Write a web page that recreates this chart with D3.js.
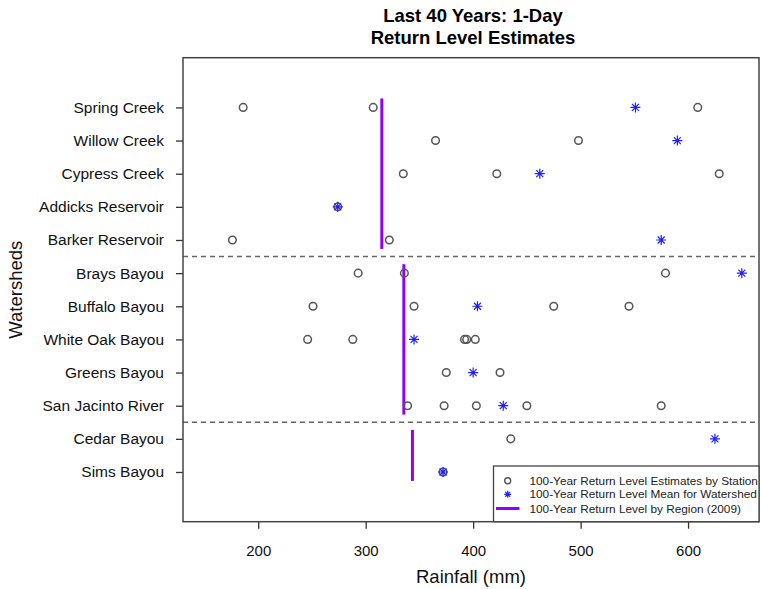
<!DOCTYPE html>
<html>
<head>
<meta charset="utf-8">
<script src="https://cdn.jsdelivr.net/npm/d3@7"></script>
<style>
    body { margin: 0; background: #fff; }
    svg text { font-family: "Liberation Sans", Arial, Helvetica, sans-serif; }
</style>
</head>
<body>
<div id="chart"></div>
<script>
// Данные графика
const watersheds = ['Spring Creek', 'Willow Creek', 'Cypress Creek', 'Addicks Reservoir', 'Barker Reservoir',
    'Brays Bayou', 'Buffalo Bayou', 'White Oak Bayou', 'Greens Bayou', 'San Jacinto River',
    'Cedar Bayou', 'Sims Bayou'];

// Оценки по станциям (мм)
const stationEstimates = [
    [186, 307, 609],
    [365, 498],
    [335, 422, 629],
    [274],
    [176, 322],
    [293, 336, 579],
    [251, 345, 475, 545],
    [246, 288, 392, 394, 402],
    [375, 425],
    [339, 373, 403, 450, 575],
    [435],
    [372]
];

// Среднее по водоразделу
const watershedMeans = [551, 590, 462, 274, 575, 650, 404, 345, 400, 428, 625, 372];

// Региональные уровни (2009) и группы водоразделов
const regionValues = [315, 335.5, 343.5];
const regionFirst = [0, 5, 10];
const regionLast = [4, 9, 11];

const xTicks = [200, 300, 400, 500, 600];
const legendLabels = ['100-Year Return Level Estimates by Station',
    '100-Year Return Level Mean for Watershed',
    '100-Year Return Level by Region (2009)'];

const width = 761, height = 589;
const plotLeft = 183, plotRight = 759, plotTop = 57.7, plotBottom = 521.7;

const svg = d3.select('#chart').append('svg')
    .attr('width', width)
    .attr('height', height);

// Шкалы
const x = d3.scaleLinear().domain([130, 666]).range([plotLeft, plotRight]);
const y = d3.scaleLinear().domain([-1.5, 12.5]).range([plotTop, plotBottom]);

const starPath = s => `M${-s},0H${s}M0,${-s}V${s}M${-s * 0.7},${-s * 0.7}L${s * 0.7},${s * 0.7}M${-s * 0.7},${s * 0.7}L${s * 0.7},${-s * 0.7}`;

// Заголовок
svg.append('text')
    .attr('x', 473).attr('y', 22)
    .attr('text-anchor', 'middle')
    .attr('font-size', '18.5px').attr('font-weight', 'bold')
    .text('Last 40 Years: 1-Day');
svg.append('text')
    .attr('x', 473).attr('y', 44)
    .attr('text-anchor', 'middle')
    .attr('font-size', '18.5px').attr('font-weight', 'bold')
    .text('Return Level Estimates');

// Ось X
const xAxis = svg.append('g')
    .attr('transform', `translate(0,${plotBottom})`)
    .call(d3.axisBottom(x).tickValues(xTicks).tickSize(7).tickPadding(17));
xAxis.select('.domain').remove();
xAxis.selectAll('line').attr('stroke', '#333').attr('stroke-width', 1.3);
xAxis.selectAll('text').attr('font-size', '15px').attr('fill', '#111')
    .attr('font-family', '"Liberation Sans", Arial, sans-serif');

// Ось Y
const yAxis = svg.append('g')
    .attr('transform', `translate(${plotLeft},0)`)
    .call(d3.axisLeft(y).tickValues(d3.range(watersheds.length))
        .tickFormat(i => watersheds[i]).tickSize(7).tickPadding(12));
yAxis.select('.domain').remove();
yAxis.selectAll('line').attr('stroke', '#333').attr('stroke-width', 1.3);
yAxis.selectAll('text').attr('font-size', '15.5px').attr('fill', '#111')
    .attr('font-family', '"Liberation Sans", Arial, sans-serif');

// Подписи осей
svg.append('text')
    .attr('x', (plotLeft + plotRight) / 2).attr('y', 583)
    .attr('text-anchor', 'middle')
    .attr('font-size', '18.5px').attr('fill', '#111')
    .text('Rainfall (mm)');
svg.append('text')
    .attr('transform', `translate(22,${(plotTop + plotBottom) / 2}) rotate(-90)`)
    .attr('text-anchor', 'middle')
    .attr('font-size', '18.5px').attr('fill', '#111')
    .text('Watersheds');

// Пунктирные разделители групп
svg.append('g').selectAll('line')
    .data(regionLast.slice(0, -1))
    .enter().append('line')
    .attr('x1', plotLeft).attr('x2', plotRight)
    .attr('y1', d => y(d + 0.5)).attr('y2', d => y(d + 0.5))
    .attr('stroke', '#666').attr('stroke-width', 1.5)
    .attr('stroke-dasharray', '5,4');

// Региональные линии
svg.append('g').selectAll('line')
    .data(regionValues)
    .enter().append('line')
    .attr('x1', d => x(d)).attr('x2', d => x(d))
    .attr('y1', (d, i) => y(regionFirst[i] - 0.27))
    .attr('y2', (d, i) => y(regionLast[i] + 0.27))
    .attr('stroke', '#8f00ff').attr('stroke-width', 3);

// Точки станций
const stations = [];
stationEstimates.forEach((vals, i) => vals.forEach(v => stations.push({ row: i, value: v })));
svg.append('g').selectAll('circle')
    .data(stations)
    .enter().append('circle')
    .attr('cx', d => x(d.value))
    .attr('cy', d => y(d.row))
    .attr('r', 3.8)
    .attr('fill', 'none')
    .attr('stroke', '#555')
    .attr('stroke-width', 1.5);

// Средние значения (звёздочки)
svg.append('g').selectAll('path')
    .data(watershedMeans)
    .enter().append('path')
    .attr('transform', (d, i) => `translate(${x(d)},${y(i)})`)
    .attr('d', starPath(5))
    .attr('stroke', '#1f1fff')
    .attr('stroke-width', 1.2)
    .attr('fill', 'none');

// Рамка графика
svg.append('rect')
    .attr('x', plotLeft).attr('y', plotTop)
    .attr('width', plotRight - plotLeft).attr('height', plotBottom - plotTop)
    .attr('fill', 'none')
    .attr('stroke', '#444')
    .attr('stroke-width', 1.5);

// Легенда
const legend = svg.append('g');
legend.append('rect')
    .attr('x', 493.5).attr('y', 466)
    .attr('width', plotRight - 493.5).attr('height', plotBottom - 466)
    .attr('fill', '#fff')
    .attr('stroke', '#444')
    .attr('stroke-width', 1.3);

const legendY = [480.7, 494.3, 508.5];
legend.append('circle')
    .attr('cx', 507.7).attr('cy', legendY[0]).attr('r', 3)
    .attr('fill', 'none').attr('stroke', '#555').attr('stroke-width', 1.4);
legend.append('path')
    .attr('transform', `translate(507.7,${legendY[1]})`)
    .attr('d', starPath(3.5))
    .attr('stroke', '#1f1fff').attr('stroke-width', 1.2);
legend.append('line')
    .attr('x1', 496).attr('x2', 519.5)
    .attr('y1', legendY[2]).attr('y2', legendY[2])
    .attr('stroke', '#8f00ff').attr('stroke-width', 3);

legend.selectAll('text.lab')
    .data(legendLabels)
    .enter().append('text')
    .attr('class', 'lab')
    .attr('x', 529.5)
    .attr('y', (d, i) => legendY[i] + 4)
    .attr('font-size', '11.8px')
    .attr('fill', '#222')
    .text(d => d);
</script>
</body>
</html>
